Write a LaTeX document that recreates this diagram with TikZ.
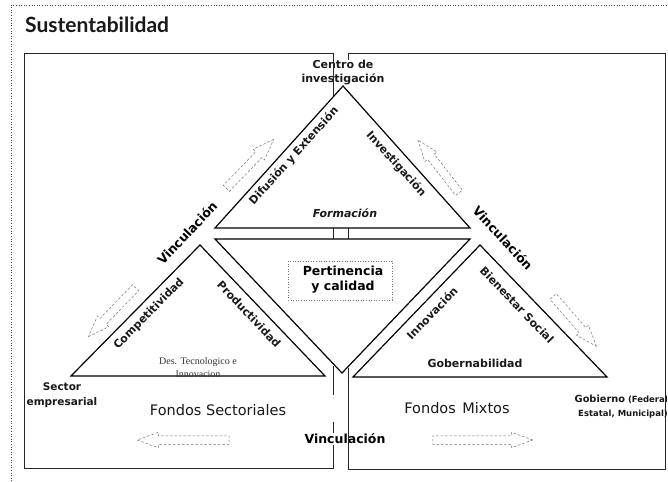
\documentclass[tikz,border=0pt]{standalone}
\usepackage{fontspec}
\setmainfont{DejaVu Sans}
\newfontfamily\titlefont{Lato}
\newfontfamily\serfont{Liberation Serif}
\usetikzlibrary{shapes.arrows}
\begin{document}
\begin{tikzpicture}[x=1pt,y=-1pt,
  tri/.style={draw=black, line width=1.2pt, line join=miter},
  boxline/.style={draw=black!85, line width=0.9pt},
  lbl/.style={font=\fontsize{11}{13}\selectfont\bfseries, inner sep=0pt, text=black!90},
  vinc/.style={font=\fontsize{12.5}{15}\selectfont\bfseries, inner sep=0pt},
  fondo/.style={font=\fontsize{14.5}{17}\selectfont, inner sep=0pt, text=black!90},
  darr/.style={single arrow, draw=black!55, dash pattern=on 2.5pt off 2pt, line width=0.5pt,
     minimum height=#1, inner xsep=0pt, inner ysep=4pt, minimum width=15pt,
     single arrow head extend=3.5pt, single arrow tip angle=40}
]
\fill[white] (0,0) rectangle (668,481);
\useasboundingbox (0,0) rectangle (668,481);

% outer dotted frame
\draw[black!70, dotted, line width=0.6pt] (11,481) -- (11,5) -- (668,5);

% title
\node[anchor=base west, font=\titlefont\fontsize{21}{25}\selectfont\bfseries, inner sep=0pt, text=black!90] (title) at (25,33) {Sustentabilidad};

% right box
\draw[boxline] (348,63) -- (348,53) -- (665,53) -- (665,469) -- (348,469) -- (348,368);
\draw[boxline] (348,228) -- (348,239);

% centro label (white fill hides right box line)
\node[lbl, fill=white, align=center, inner sep=0.5pt, font=\fontsize{11}{14}\selectfont\bfseries] (centro) at (343,73) {Centro de\\investigación};

% left box
\draw[boxline] (333,97) -- (333,53) -- (24,53) -- (24,468) -- (333,468) -- (333,422);
\draw[boxline] (333,395) -- (333,366);
\draw[boxline] (333,228) -- (333,239);

% triangle vertices
\coordinate (tA) at (343,86);
\coordinate (tL) at (215,228);
\coordinate (tR) at (470,228);
\coordinate (mL) at (215,239);
\coordinate (mR) at (470,239);
\coordinate (mB) at (342,373);
\coordinate (lA) at (200,245);
\coordinate (lL) at (71,376);
\coordinate (lR) at (325,376);
\coordinate (rA) at (480,245);
\coordinate (rL) at (353,377);
\coordinate (rR) at (607,377);

\draw[tri] (tL) -- (tA) -- (tR) -- cycle;
\draw[tri] (mL) -- (mR) -- (mB) -- cycle;
\draw[tri] (lL) -- (lA) -- (lR) -- cycle;
\draw[tri] (rL) -- (rA) -- (rR) -- cycle;

% top triangle labels
\node[lbl, rotate=48] (difu) at (294,156) {Difusión y Extensión};
\node[lbl, rotate=-48] (inve) at (396,164) {Investigación};
\node[lbl, font=\fontsize{11}{13}\selectfont\bfseries\itshape] (form) at (345,213) {Formación};

% vinculacion labels
\node[vinc, rotate=47] (vincL) at (187,233) {Vinculación};
\node[vinc, rotate=-47] (vincR) at (503,238) {Vinculación};

% left triangle labels
\node[lbl, rotate=45.5] (comp) at (149,314) {Competitividad};
\node[lbl, rotate=-46.5] (prod) at (249,314) {Productividad};
\node[inner sep=0pt, align=center, font=\serfont\fontsize{10}{13}\selectfont, text=black!80] (destec) at (198,368) {Des. Tecnologico e\\Innovacion};

% right triangle labels
\node[lbl, rotate=46] (inno) at (432,313) {Innovación};
\node[lbl, rotate=-46] (bien) at (517,305) {Bienestar Social};
\node[lbl] (gober) at (475,363) {Gobernabilidad};

% pertinencia
\draw[black!55, dotted, line width=0.6pt] (288,261) rectangle (392,300);
\node[align=center, inner sep=0pt, font=\fontsize{12.5}{15}\selectfont\bfseries] (pert) at (343,280) {Pertinencia\\y calidad};

% actors
\node[lbl, align=center, font=\fontsize{10.5}{15}\selectfont\bfseries] (sector) at (62,395) {Sector\\empresarial};
\node[lbl, align=right, anchor=east, font=\fontsize{8.5}{14}\selectfont\bfseries] (gob) at (668,407) {{\fontsize{9.8}{14}\selectfont Gobierno} (Federal\\Estatal, Municipal)};

% fondos
\node[fondo] (fsec) at (218,410) {Fondos Sectoriales};
\node[fondo] (fmix) at (457,408) {Fondos\hspace{0.45em}Mixtos};

% bottom vinculacion (white fill hides left box line), then right line on top
\node[vinc, fill=white, inner sep=1pt] (vincB) at (345,439) {Vinculación};
\draw[boxline] (348,420) -- (348,458);

% dashed block arrows
\node[darr=68, rotate=46] (a1) at (246,168) {};
\node[darr=67, rotate=128] (a2) at (442,171) {};
\node[darr=68, rotate=226] (a3) at (116,308) {};
\node[darr=66, rotate=-49] (a4) at (571,317) {};
\node[darr=92, rotate=180] (a5) at (189,440) {};
\node[darr=100] (a6) at (477,440) {};
\end{tikzpicture}
\end{document}
